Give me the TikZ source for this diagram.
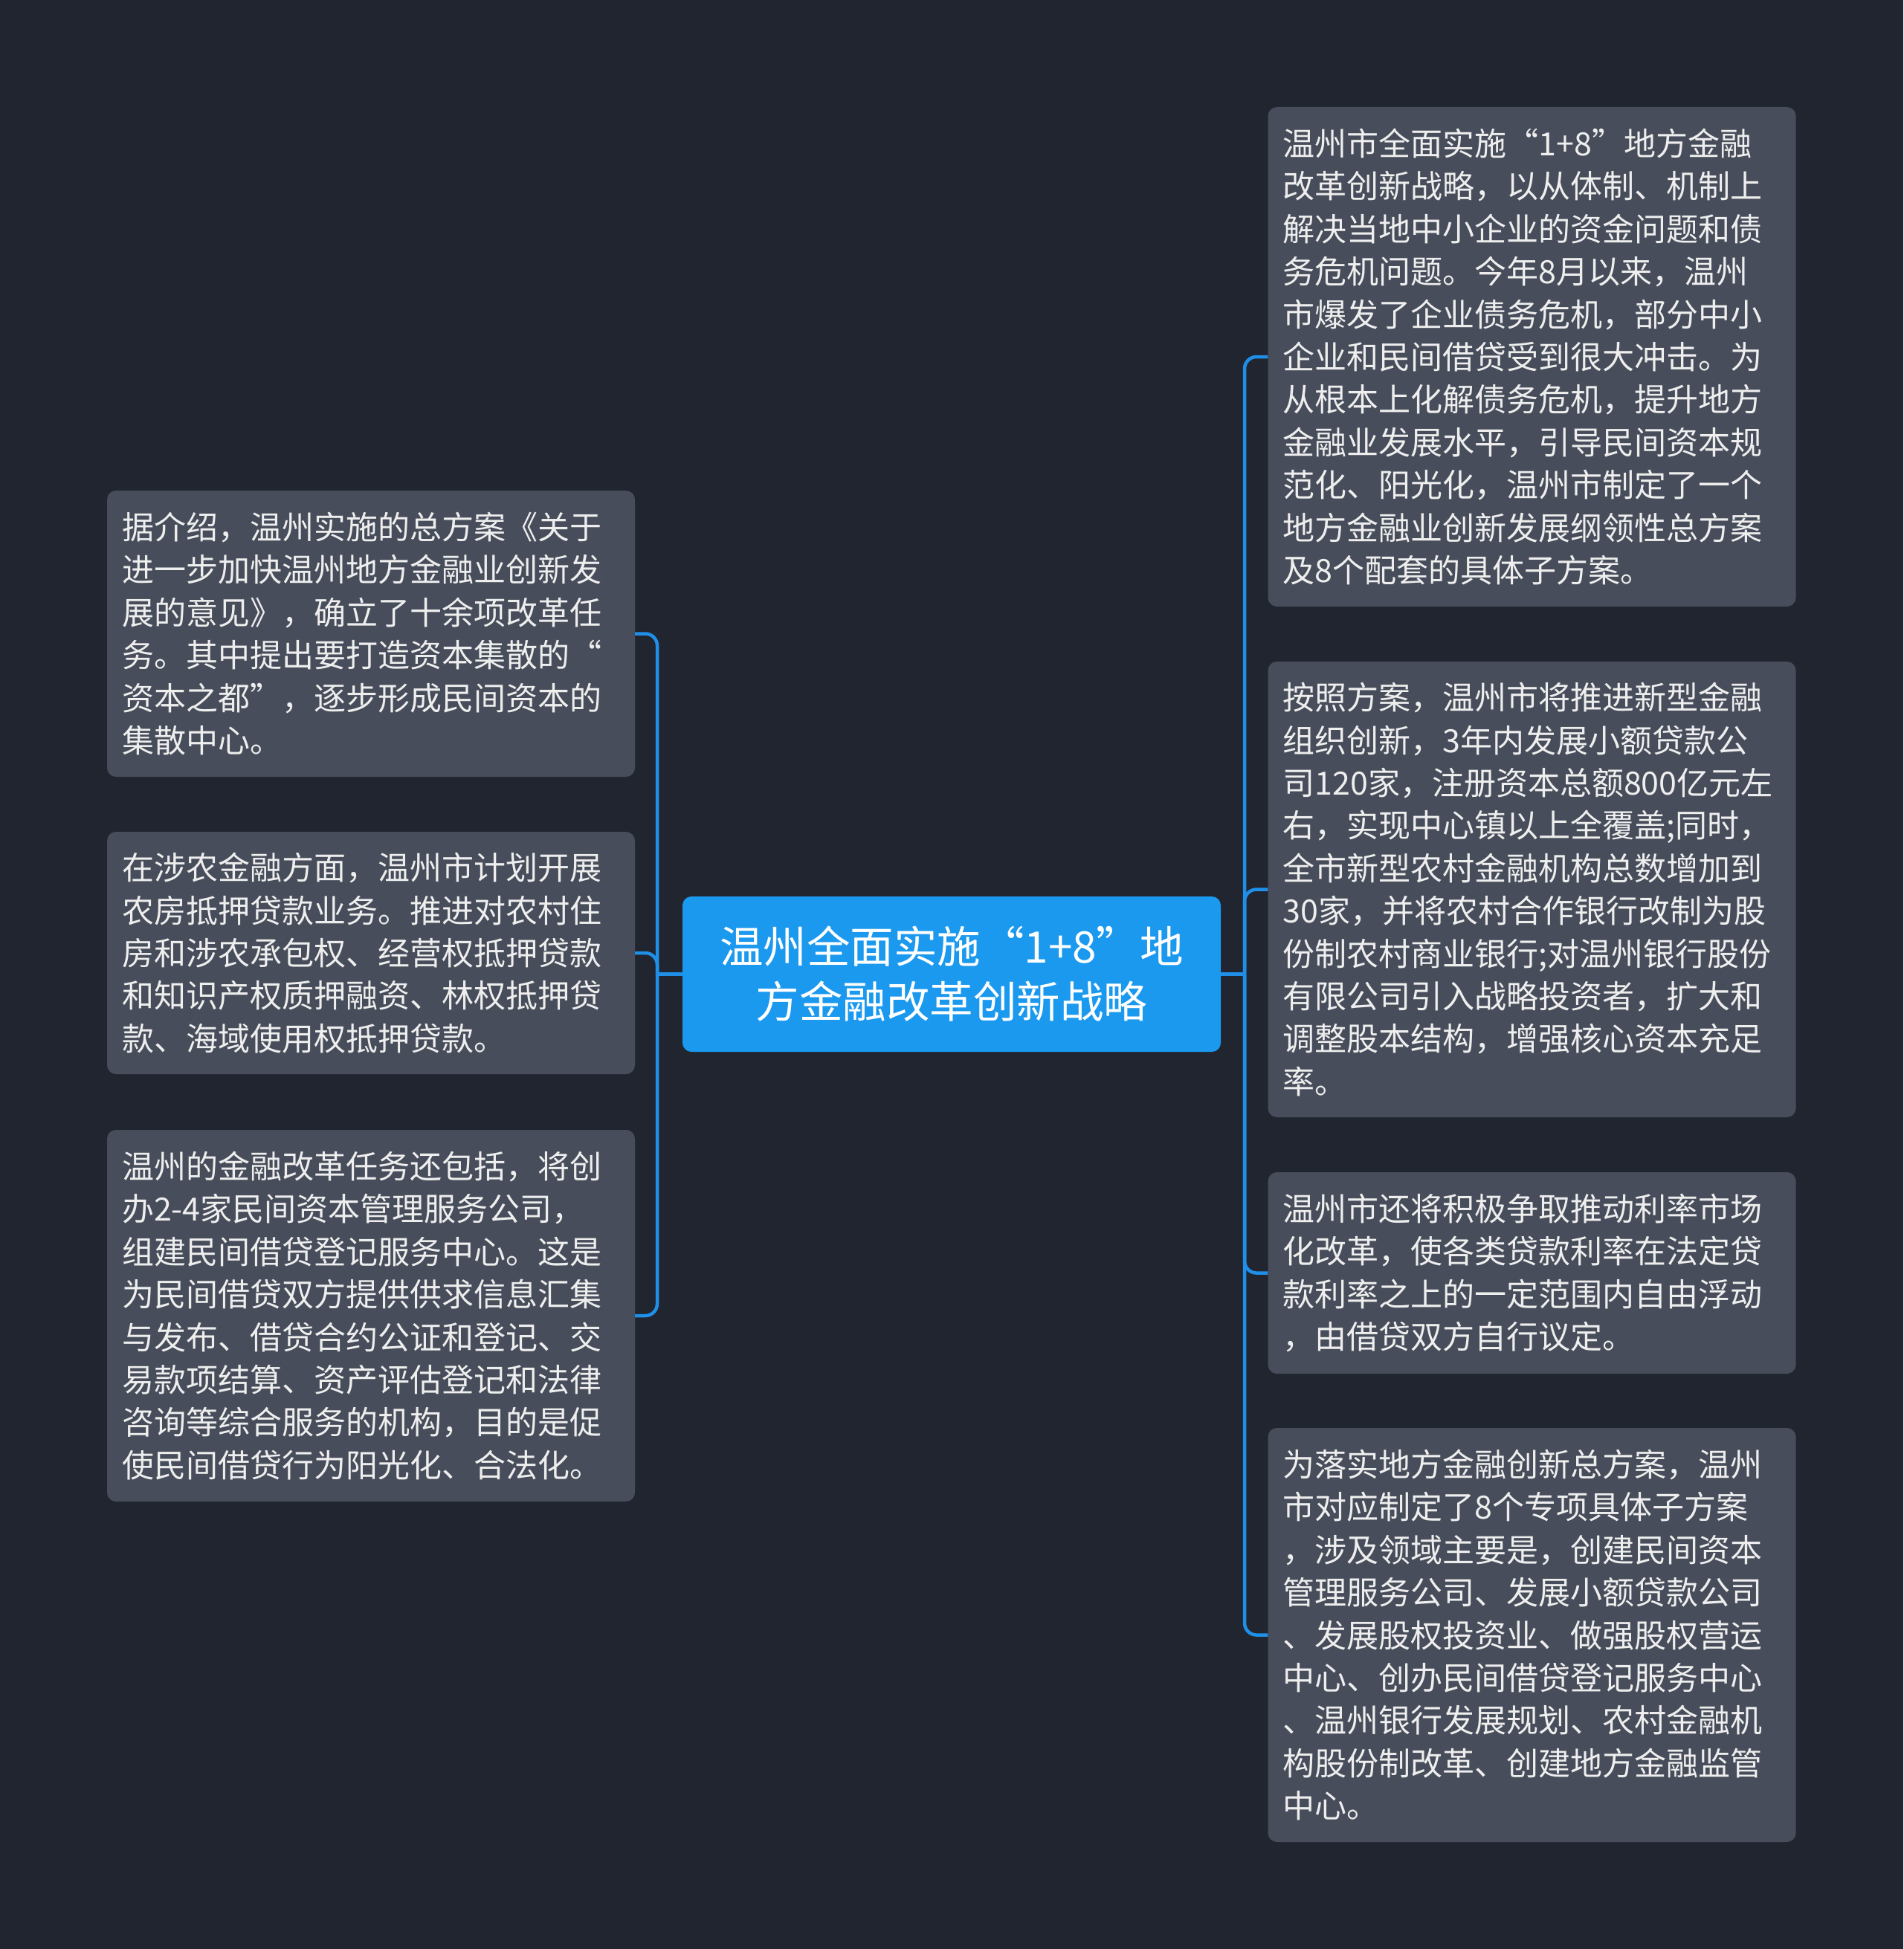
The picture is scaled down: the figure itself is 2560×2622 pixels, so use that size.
\documentclass[tikz,border=0pt]{standalone}
\usepackage{fontspec}
\setmainfont{Noto Sans CJK SC}
\definecolor{bg}{HTML}{21252F}
\definecolor{boxfill}{HTML}{474D5A}
\definecolor{txt}{HTML}{EEEEEE}
\definecolor{mainblue}{HTML}{1B99EF}
\definecolor{linkblue}{HTML}{1F8FE8}
\tikzset{
  leafbox/.style={draw=none, fill=boxfill, rounded corners=12pt, text=txt,
    inner xsep=20pt, inner ysep=0pt, text width=670pt, align=left,
    font={\fontsize{43}{57.4}\selectfont}},
  rootbox/.style={draw=none, fill=mainblue, rounded corners=12pt, text=white,
    minimum width=724pt, minimum height=209pt, align=center, inner sep=0pt,
    font={\fontsize{58.5}{74}\selectfont}},
  link/.style={draw=linkblue, line width=4.5pt, rounded corners=16pt}
}
\begin{document}
\begin{tikzpicture}[x=1pt,y=-1pt]
\fill[bg] (0,0) rectangle (2560,2622);
\useasboundingbox (0,0) rectangle (2560,2622);

\node[rootbox] (c) at (1280,1310.5) {温州全面实施“1+8”地\\方金融改革创新战略};

\node[leafbox, minimum height=385pt] (L1) at (499,852.5) {据介绍，温州实施的总方案《关于\\进一步加快温州地方金融业创新发\\展的意见》，确立了十余项改革任\\务。其中提出要打造资本集散的“\\资本之都”，逐步形成民间资本的\\集散中心。};
\node[leafbox, minimum height=326pt] (L2) at (499,1282) {在涉农金融方面，温州市计划开展\\农房抵押贷款业务。推进对农村住\\房和涉农承包权、经营权抵押贷款\\和知识产权质押融资、林权抵押贷\\款、海域使用权抵押贷款。};
\node[leafbox, minimum height=500pt] (L3) at (499,1770) {温州的金融改革任务还包括，将创\\办2-4家民间资本管理服务公司，\\组建民间借贷登记服务中心。这是\\为民间借贷双方提供供求信息汇集\\与发布、借贷合约公证和登记、交\\易款项结算、资产评估登记和法律\\咨询等综合服务的机构，目的是促\\使民间借贷行为阳光化、合法化。};

\node[leafbox, minimum height=672pt] (R1) at (2060.5,480) {温州市全面实施“1+8”地方金融\\改革创新战略，以从体制、机制上\\解决当地中小企业的资金问题和债\\务危机问题。今年8月以来，温州\\市爆发了企业债务危机，部分中小\\企业和民间借贷受到很大冲击。为\\从根本上化解债务危机，提升地方\\金融业发展水平，引导民间资本规\\范化、阳光化，温州市制定了一个\\地方金融业创新发展纲领性总方案\\及8个配套的具体子方案。};
\node[leafbox, minimum height=613pt] (R2) at (2060.5,1196.5) {按照方案，温州市将推进新型金融\\组织创新，3年内发展小额贷款公\\司120家，注册资本总额800亿元左\\右，实现中心镇以上全覆盖;同时，\\全市新型农村金融机构总数增加到\\30家，并将农村合作银行改制为股\\份制农村商业银行;对温州银行股份\\有限公司引入战略投资者，扩大和\\调整股本结构，增强核心资本充足\\率。};
\node[leafbox, minimum height=271pt] (R3) at (2060.5,1712.5) {温州市还将积极争取推动利率市场\\化改革，使各类贷款利率在法定贷\\款利率之上的一定范围内自由浮动\\，由借贷双方自行议定。};
\node[leafbox, minimum height=557pt] (R4) at (2060.5,2199.5) {为落实地方金融创新总方案，温州\\市对应制定了8个专项具体子方案\\，涉及领域主要是，创建民间资本\\管理服务公司、发展小额贷款公司\\、发展股权投资业、做强股权营运\\中心、创办民间借贷登记服务中心\\、温州银行发展规划、农村金融机\\构股份制改革、创建地方金融监管\\中心。};

\coordinate (jl) at (884,1310.5);
\coordinate (jr) at (1674,1310.5);

\draw[link] (c.west) -- (jl);
\draw[link] (c.east) -- (jr);
\foreach \n in {L1,L2,L3} { \draw[link] (jl) |- (\n.east); }
\foreach \n in {R1,R2,R3,R4} { \draw[link] (jr) |- (\n.west); }
\end{tikzpicture}
\end{document}
